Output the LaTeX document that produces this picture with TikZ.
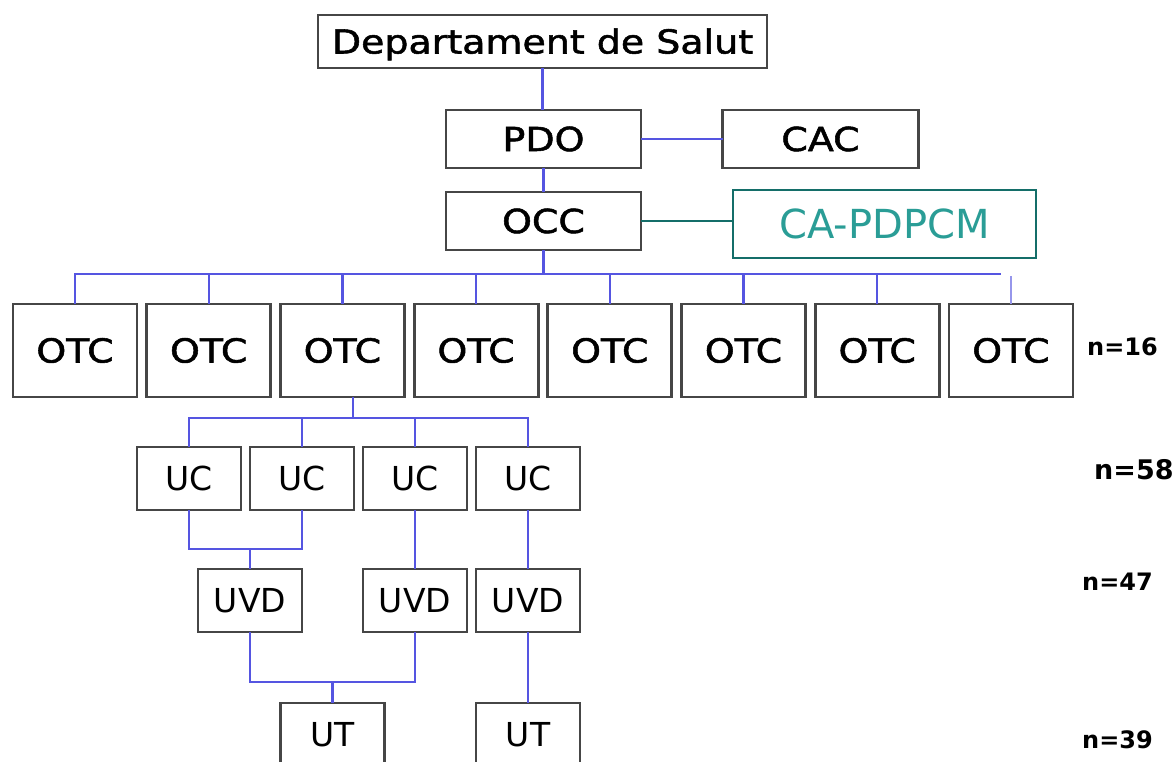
\documentclass[tikz,border=0pt]{standalone}
\usepackage{fontspec}
\setmainfont{DejaVu Sans}
\newfontfamily\widefont{DejaVu Sans}[FakeStretch=1.15,FakeBold=1.6]
\definecolor{linkblue}{RGB}{85,85,225}
\definecolor{linkpale}{RGB}{150,150,235}
\definecolor{tealline}{RGB}{20,110,105}
\definecolor{tealtext}{RGB}{42,157,150}
\definecolor{boxline}{RGB}{70,70,70}
\tikzset{
  box/.style={draw=boxline, line width=2.8pt, fill=white, inner sep=0pt, outer sep=0pt,
    text depth=0pt, anchor=center},
  topbox/.style={box, font=\widefont\fontsize{33}{40}\selectfont, text height=24pt},
  otcbox/.style={box, minimum width=124pt, minimum height=93pt,
    font=\widefont\fontsize{33}{40}\selectfont, text height=24pt},
  lowbox/.style={box, minimum width=104pt, minimum height=63pt,
    font=\fontsize{33}{40}\selectfont, text height=24pt},
  tealbox/.style={draw=tealline, line width=2.2pt, fill=white, inner sep=0pt, outer sep=0pt,
    text=tealtext, font=\fontsize{40}{48}\selectfont, text height=29pt, text depth=0pt},
  link/.style={draw=linkblue, line width=2.4pt},
  palelink/.style={draw=linkpale, line width=2.8pt},
  teallink/.style={draw=tealline, line width=2.2pt},
  count/.style={font=\bfseries\fontsize{24}{28}\selectfont, inner sep=0pt, anchor=west}
}
\begin{document}
\begin{tikzpicture}[x=1pt,y=-1pt]
\useasboundingbox (0,0) rectangle (1174,761);
\clip (0,0) rectangle (1174,761);
\fill[white] (0,0) rectangle (1174,761);

% helper coordinates
\coordinate (busy) at (0,274);
\coordinate (busend) at (1001,274);
\coordinate (paley) at (0,276);
\coordinate (ucbus) at (0,418);
\coordinate (j1) at (0,549);
\coordinate (j2) at (0,682);

\node[topbox, minimum width=449pt, minimum height=53pt] (dep) at (542.5,41.5) {Departament de Salut};
\node[topbox, minimum width=195pt, minimum height=58pt] (pdo) at (543.5,139) {PDO};
\node[topbox, minimum width=196pt, minimum height=58pt] (cac) at (820.5,139) {CAC};
\node[topbox, minimum width=195pt, minimum height=58pt] (occ) at (543.5,221) {OCC};
\node[tealbox, minimum width=303pt, minimum height=68pt] (ca) at (884.5,224) {CA-PDPCM};

\foreach \i in {1,...,8}{
  \node[otcbox] (otc\i) at ({75+133.7*(\i-1)},350.5) {OTC};
}

\node[lowbox] (uc1) at (189,478.5) {UC};
\node[lowbox] (uc2) at (302,478.5) {UC};
\node[lowbox] (uc3) at (415,478.5) {UC};
\node[lowbox] (uc4) at (528,478.5) {UC};

\node[lowbox] (uvd1) at (250,600.5) {UVD};
\node[lowbox] (uvd2) at (415,600.5) {UVD};
\node[lowbox] (uvd3) at (528,600.5) {UVD};

\node[lowbox] (ut1) at (332.5,734.5) {UT};
\node[lowbox] (ut2) at (528,734.5) {UT};

\node[count] (n16) at (1087,347) {n=16};
\node[count, font=\bfseries\fontsize{27}{32}\selectfont] (n58) at (1094,470) {n=58};
\node[count] (n47) at (1082,582) {n=47};
\node[count] (n39) at (1082,740) {n=39};

% connectors
\draw[link] (dep.south) -- (dep.south |- pdo.north);
\draw[link] (pdo.east) -- (cac.west);
\draw[link] (pdo.south) -- (occ.north);
\draw[teallink] (occ.east) -- (occ.east -| ca.west);

\draw[link] (occ.south) -- (occ.south |- busy);
\draw[link] (otc1.north) |- (busend);
\foreach \i in {2,...,7}{
  \draw[link] (otc\i.north) -- (otc\i.north |- busy);
}
\coordinate (d8) at (otc8.north |- paley);
\draw[palelink] (d8) -- (otc8.north);

\coordinate (o3) at ([xshift=10.6pt]otc3.south);
\draw[link] (o3) -- (o3 |- ucbus);
\draw[link] (uc1.north) |- (uc4.north |- ucbus) -- (uc4.north);
\draw[link] (uc2.north) -- (uc2.north |- ucbus);
\draw[link] (uc3.north) -- (uc3.north |- ucbus);

\draw[link] (uc1.south) |- (uc2.south |- j1) -- (uc2.south);
\draw[link] (uvd1.north) -- (uvd1.north |- j1);
\draw[link] (uc3.south) -- (uvd2.north);
\draw[link] (uc4.south) -- (uvd3.north);

\draw[link] (uvd1.south) |- (uvd2.south |- j2) -- (uvd2.south);
\draw[link] (ut1.north) -- (ut1.north |- j2);
\draw[link] (uvd3.south) -- (ut2.north);
\end{tikzpicture}
\end{document}
